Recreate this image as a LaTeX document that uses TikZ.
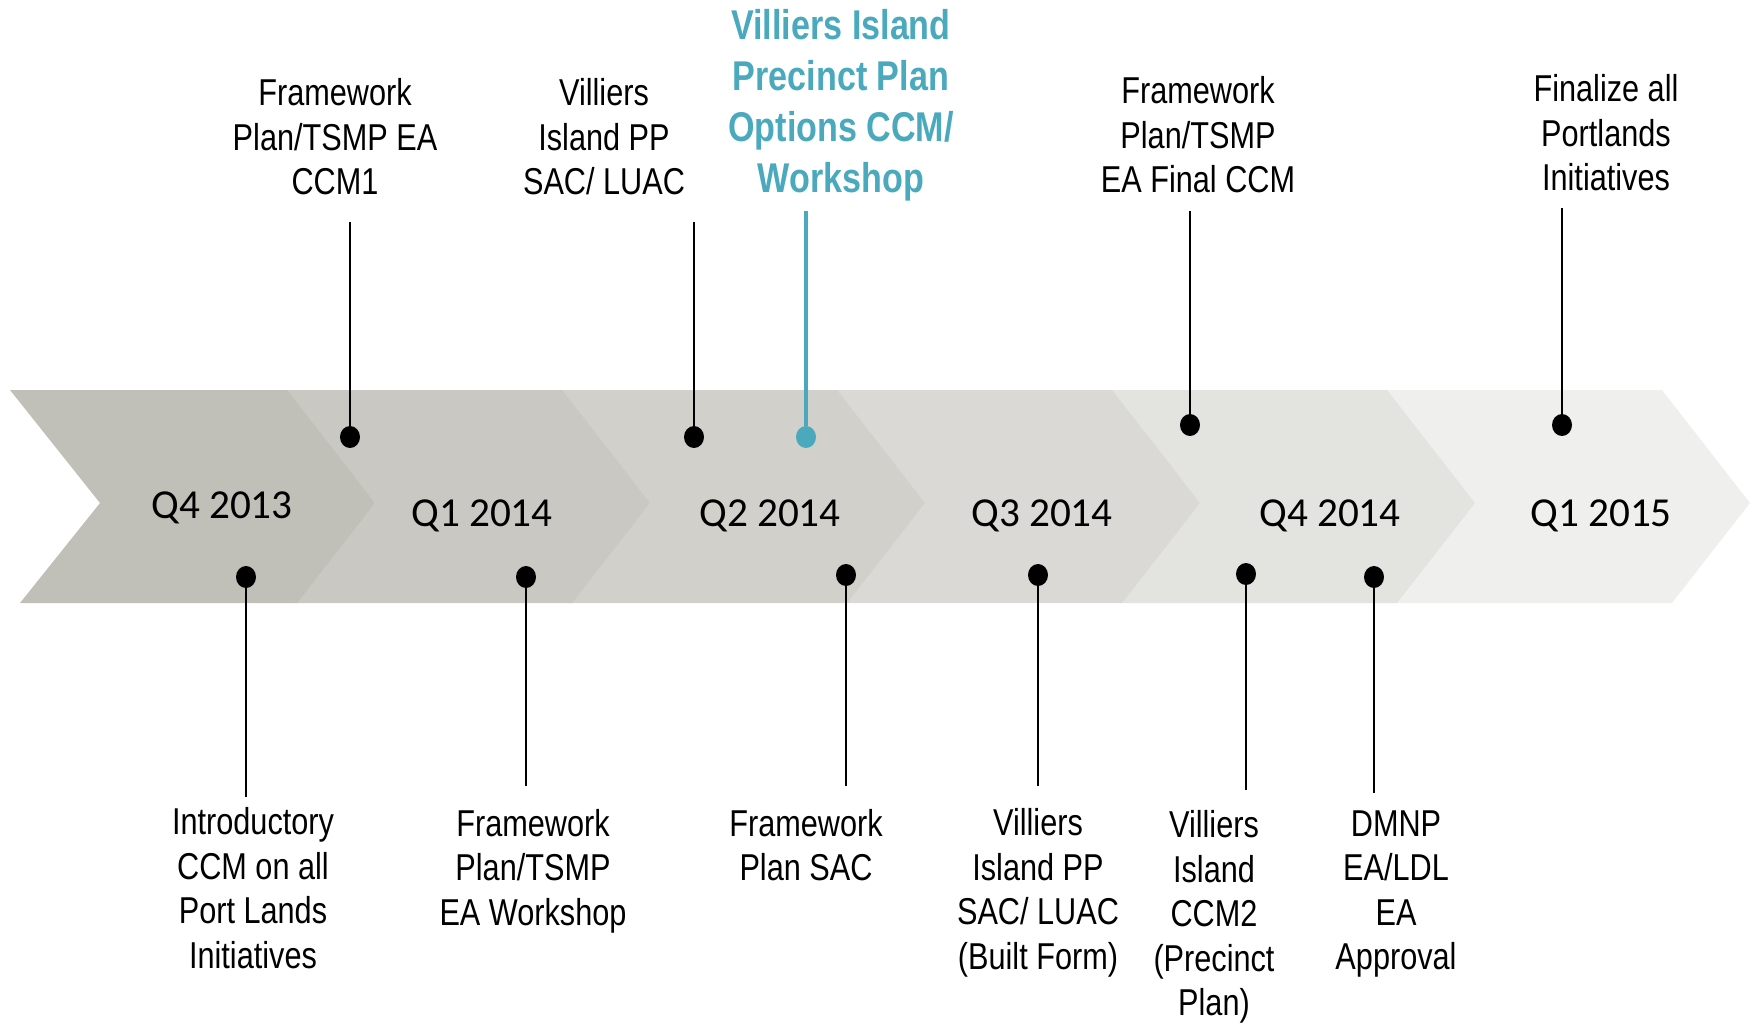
\documentclass[tikz,border=0pt]{standalone}
\usepackage{fontspec}
\usetikzlibrary{shapes.geometric}
\newfontfamily\narrowfont[FakeStretch=0.82]{Liberation Sans}
\newfontfamily\calfont{Carlito}
\newcommand\lblfont{\narrowfont\fontsize{18.7}{22.3}\selectfont}
\newcommand\teallblfont{\narrowfont\bfseries\fontsize{20.8}{25.5}\selectfont}
\newcommand\qtrfont{\calfont\fontsize{20.6}{24}\selectfont}
\definecolor{chA}{HTML}{C0BFB8}
\definecolor{chB}{HTML}{C9C8C2}
\definecolor{chC}{HTML}{D1D0CB}
\definecolor{chD}{HTML}{DAD9D5}
\definecolor{chE}{HTML}{E3E3DF}
\definecolor{chF}{HTML}{EFEFED}
\definecolor{teal}{HTML}{4AA9BC}
\tikzset{
  lbl/.style={align=center, inner sep=0pt, font=\lblfont, text=black},
  teallbl/.style={align=center, inner sep=0pt, font=\teallblfont, text=teal},
  qtr/.style={inner sep=0pt, font=\qtrfont, anchor=base},
  dot/.style={ellipse, fill=black, minimum width=10pt, minimum height=11pt, inner sep=0pt},
  tealdot/.style={dot, fill=teal},
  conn/.style={line width=1.1pt, black},
  tealconn/.style={line width=1.6pt, teal},
}
\begin{document}
\begin{tikzpicture}[x=0.5pt,y=-0.5pt]
\path[use as bounding box] (0,0) rectangle (1761,1024);
% chevrons, back to front
\fill[chF] (1385,390) -- (1662,390) -- (1750,503) -- (1672,603) -- (1395,603) -- (1475,503) -- cycle;
\fill[chE] (1110,390) -- (1387,390) -- (1475,503) -- (1397,603) -- (1120,603) -- (1200,503) -- cycle;
\fill[chD] (835,390) -- (1112,390) -- (1200,503) -- (1122,603) -- (845,603) -- (925,503) -- cycle;
\fill[chC] (560,390) -- (837,390) -- (925,503) -- (847,603) -- (570,603) -- (650,503) -- cycle;
\fill[chB] (285,390) -- (562,390) -- (650,503) -- (572,603) -- (295,603) -- (375,503) -- cycle;
\fill[chA] (10,390) -- (287,390) -- (375,503) -- (297,603) -- (20,603) -- (100,503) -- cycle;
% quarter labels
\node[qtr] (q1) at (222,518) {Q4 2013};
\node[qtr] (q2) at (482,526) {Q1 2014};
\node[qtr] (q3) at (770,526) {Q2 2014};
\node[qtr] (q4) at (1042,526) {Q3 2014};
\node[qtr] (q5) at (1330,526) {Q4 2014};
\node[qtr] (q6) at (1601,526) {Q1 2015};
% top labels
\node[lbl] (t1) at (335,137) {Framework\\Plan/TSMP EA\\CCM1};
\node[lbl] (t2) at (604,137) {Villiers\\Island PP\\SAC/ LUAC};
\node[teallbl] (t3) at (841,105) {Villiers Island\\Precinct Plan\\Options CCM/\\Workshop};
\node[lbl] (t4) at (1198,135) {Framework\\Plan/TSMP\\EA Final CCM};
\node[lbl] (t5) at (1606,133) {Finalize all\\Portlands\\Initiatives};
% bottom labels
\node[lbl] (b1) at (253,888) {Introductory\\CCM on all\\Port Lands\\Initiatives};
\node[lbl] (b2) at (533,871) {Framework\\Plan/TSMP\\EA Workshop};
\node[lbl] (b3) at (806,845) {Framework\\Plan SAC};
\node[lbl] (b4) at (1038,893) {Villiers\\Island PP\\SAC/ LUAC\\(Built Form)};
\node[lbl] (b5) at (1214,917) {Villiers\\Island\\CCM2\\(Precinct\\Plan)};
\node[lbl] (b6) at (1396,894) {DMNP\\EA/LDL\\EA\\Approval};
% dots
\node[dot] (dt1) at (350,437) {};
\node[dot] (dt2) at (694,437) {};
\node[tealdot] (dt3) at (806,437) {};
\node[dot] (dt4) at (1190,425) {};
\node[dot] (dt5) at (1562,425) {};
\node[dot] (db1) at (246,577) {};
\node[dot] (db2) at (526,577) {};
\node[dot] (db3) at (846,575) {};
\node[dot] (db4) at (1038,575) {};
\node[dot] (db5) at (1246,574) {};
\node[dot] (db6) at (1374,577) {};
% connector ends
\coordinate (et1) at (350,222);
\coordinate (et2) at (694,222);
\coordinate (et3) at (806,211);
\coordinate (et4) at (1190,211);
\coordinate (et5) at (1562,208);
\coordinate (eb1) at (246,797);
\coordinate (eb2) at (526,786);
\coordinate (eb3) at (846,786);
\coordinate (eb4) at (1038,786);
\coordinate (eb5) at (1246,790);
\coordinate (eb6) at (1374,793);
% connectors
\draw[conn] (dt1) -- (et1);
\draw[conn] (dt2) -- (et2);
\draw[tealconn] (dt3) -- (et3);
\draw[conn] (dt4) -- (et4);
\draw[conn] (dt5) -- (et5);
\draw[conn] (db1) -- (eb1);
\draw[conn] (db2) -- (eb2);
\draw[conn] (db3) -- (eb3);
\draw[conn] (db4) -- (eb4);
\draw[conn] (db5) -- (eb5);
\draw[conn] (db6) -- (eb6);
\end{tikzpicture}
\end{document}
